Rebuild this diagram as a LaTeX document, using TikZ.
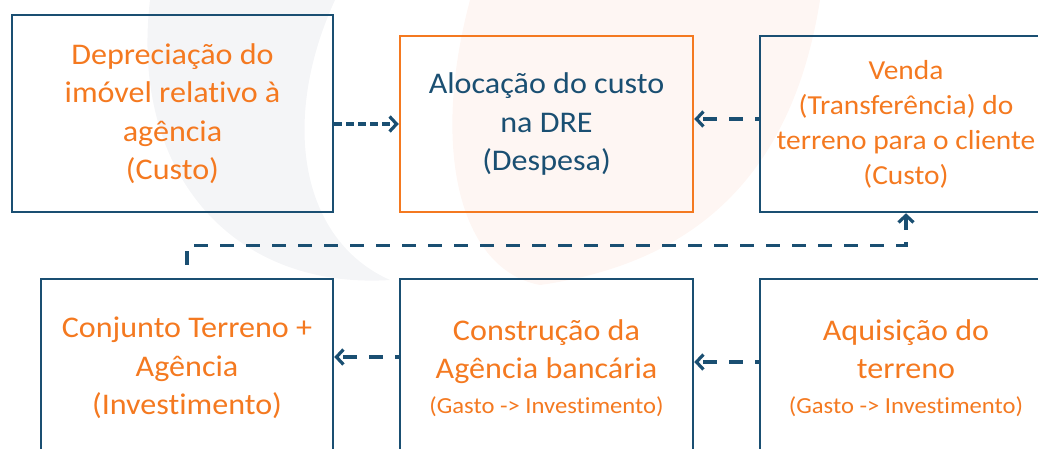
\documentclass[tikz,border=0pt]{standalone}
\usepackage{fontspec}
\setmainfont[FakeStretch=1.07,RawFeature={-liga;-dlig}]{Carlito}
\usetikzlibrary{arrows.meta}
\definecolor{dblue}{HTML}{1A4F72}
\definecolor{orng}{HTML}{F47920}
\definecolor{wmgray}{HTML}{F4F5F7}
\definecolor{wmpink}{HTML}{FEF6F3}
\tikzset{
  box/.style={draw=dblue, line width=2.5pt, align=center, text=orng, inner sep=0pt,
    font=\fontsize{30}{38.5}\selectfont},
  obox/.style={box, draw=orng, text=dblue},
  conn/.style={draw=dblue, line width=3.2pt, -{Straight Barb[length=7pt,width=15pt]}},
  longdash/.style={dash pattern=on 14pt off 12pt},
  shortdash/.style={dash pattern=on 8pt off 4pt}
}
\begin{document}
\begin{tikzpicture}[x=1pt,y=-1pt]
\useasboundingbox (0,0) rectangle (1038,448);
% faint watermark
\fill[wmgray] (150,0) .. controls (130,170) and (230,290) .. (390,280) .. controls (300,240) and (280,120) .. (335,0) -- cycle;
\fill[wmpink] (470,0) .. controls (430,150) and (460,270) .. (540,285) .. controls (680,265) and (790,190) .. (820,0) -- cycle;
% boxes
\node[box, minimum width=321pt, minimum height=197pt] (b1) at (172.5,113.5)
  {Depreciação do\\imóvel relativo à\\agência\\(Custo)};
\node[obox, minimum width=293pt, minimum height=176pt] (b2) at (546.5,124)
  {Alocação do custo\\na DRE\\(Despesa)};
\node[box, minimum width=292pt, minimum height=176pt, font=\fontsize{27.5}{35}\selectfont] (b3) at (906,124)
  {Venda\\(Transferência) do\\terreno para o cliente\\(Custo)};
\node[box, minimum width=292pt, minimum height=178pt] (b4) at (187,368)
  {Conjunto Terreno +\\Agência\\(Investimento)};
\node[box, minimum width=293pt, minimum height=178pt] (b5) at (546.5,368)
  {Construção da\\Agência bancária\\[-4pt]{\fontsize{23}{30}\selectfont (Gasto -> Investimento)}};
\node[box, minimum width=292pt, minimum height=178pt] (b6) at (906,368)
  {Aquisição do\\terreno\\[-4pt]{\fontsize{23}{30}\selectfont (Gasto -> Investimento)}};
% connectors
\draw[conn, shortdash] (b1.east |- b2.west) -- (b2.west);
\draw[conn, longdash, dash phase=10pt] ([yshift=5pt]b3.west) -- ([yshift=5pt]b2.east);
\draw[conn, longdash, dash phase=10pt] ([yshift=11pt]b5.west) -- ([yshift=11pt]b4.east);
\draw[conn, longdash, dash phase=10pt] ([yshift=6pt]b6.west) -- ([yshift=6pt]b5.east);
\draw[conn, longdash] ([yshift=13pt]b4.north) -- ++(0,-19) -| (b3.south);
\end{tikzpicture}
\end{document}
